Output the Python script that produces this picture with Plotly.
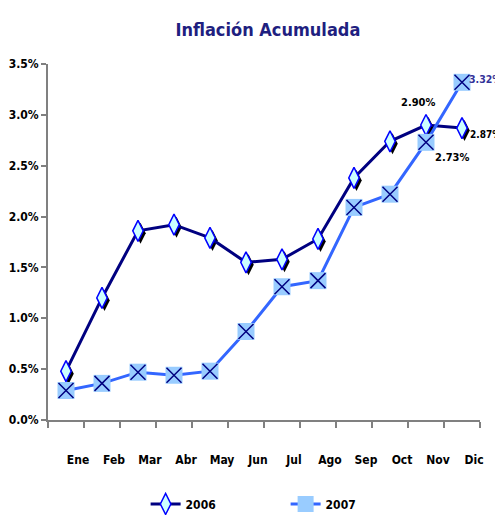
import plotly.graph_objects as go

# meses y valores acumulados (%)
meses = ['Ene', 'Feb', 'Mar', 'Abr', 'May', 'Jun', 'Jul', 'Ago', 'Sep', 'Oct', 'Nov', 'Dic']
infl_2006 = [0.48, 1.20, 1.86, 1.92, 1.79, 1.55, 1.58, 1.78, 2.38, 2.74, 2.90, 2.87]
infl_2007 = [0.29, 0.36, 0.47, 0.44, 0.48, 0.87, 1.31, 1.37, 2.09, 2.22, 2.73, 3.32]
y_ticks = [0.0, 0.5, 1.0, 1.5, 2.0, 2.5, 3.0, 3.5]

FONT = 'DejaVu Sans Condensed, Liberation Sans Narrow, sans-serif'
NAVY = '#000080'
BLUE = '#3366FF'

# the page body has an 8px margin, keep the figure inside the window (no scrollbars)
W, H = 495, 507
ml, mr, mt, mb = 40, 23, 56, 95
plot_w = W - ml - mr
plot_h = H - mt - mb
y_max = 3.5
n = len(meses)

# shadow offset (pixels) done with a shifted hidden axis
sh = 2.5
dx = sh * n / plot_w
dy = sh * y_max / plot_h

fig = go.Figure()

# sombra de los rombos
fig.add_trace(go.Scatter(
    x=list(range(n)), y=infl_2006, mode='markers', xaxis='x', yaxis='y',
    marker=dict(symbol='diamond-tall', size=15, color='black', line=dict(width=0)),
    showlegend=False, hoverinfo='skip'))

fig.add_trace(go.Scatter(
    x=meses, y=infl_2006, name='2006', mode='lines+markers', xaxis='x2', yaxis='y2',
    line=dict(color=NAVY, width=3),
    marker=dict(symbol='diamond-tall', size=15, color='#CCFFFF', line=dict(color='#0000FF', width=1.5))))

fig.add_trace(go.Scatter(
    x=meses, y=infl_2007, name='2007', mode='lines+markers', xaxis='x2', yaxis='y2',
    line=dict(color=BLUE, width=3),
    marker=dict(symbol='square', size=17, color='#99CCFF', line=dict(width=0))))

fig.add_trace(go.Scatter(
    x=meses, y=infl_2007, mode='markers', xaxis='x2', yaxis='y2',
    marker=dict(symbol='x-thin-open', size=15, color=NAVY, line=dict(color=NAVY, width=1.5)),
    showlegend=False, hoverinfo='skip'))

# etiquetas de datos: (mes, valor, dx, dy, anclaje, color, tamaño)
labels = [
    (10, infl_2006[10], -8, 23, 'center', 'black', 11),
    (11, infl_2006[11], 6, -6, 'left', 'black', 10),
    (10, infl_2007[10], 7, -15, 'left', 'black', 11),
    (11, infl_2007[11], 5, 3, 'left', '#333399', 10.5),
]
for xi, yv, xs, ys, anc, col, sz in labels:
    fig.add_annotation(x=meses[xi], y=yv, xref='x2', yref='y2', text=f'{yv:.2f}%',
                       showarrow=False, xshift=xs, yshift=ys, xanchor=anc,
                       font=dict(family=FONT, size=sz, color=col, weight='bold'))

fig.update_layout(
    width=W, height=H,
    margin=dict(l=ml, r=mr, t=mt, b=mb),
    paper_bgcolor='white', plot_bgcolor='white',
    font=dict(family=FONT, color='black', weight='bold'),
    title=dict(text='Inflación Acumulada', x=0.525, xanchor='center', y=1 - 22 / H, yanchor='middle',
               font=dict(family=FONT, size=18, color='#1F1F80', weight='bold')),
    xaxis=dict(visible=False, range=[-0.5 - dx, n - 0.5 - dx]),
    yaxis=dict(visible=False, range=[dy, y_max + dy]),
    xaxis2=dict(overlaying='x', type='category', range=[-0.5, n - 0.5], showline=True,
                linecolor='#808080', linewidth=2, ticks='outside', tickson='boundaries',
                ticklen=6, tickcolor='#808080', tickwidth=2, showgrid=False, automargin=False,
                ticklabelshift=12, ticklabelstandoff=28,
                tickfont=dict(family=FONT, size=12, color='black', weight='bold'), anchor='y2'),
    yaxis2=dict(overlaying='y', range=[0, y_max], tickvals=y_ticks,
                ticktext=[f'{v:.1f}%' for v in y_ticks], automargin=False,
                showline=True, linecolor='#808080', linewidth=2, ticks='outside', ticklen=5,
                tickcolor='#808080', tickwidth=2, showgrid=False, zeroline=False,
                tickfont=dict(family=FONT, size=12, color='black', weight='bold'), anchor='x2'),
    legend=dict(orientation='h', xref='container', x=0.278, xanchor='left',
                yref='container', y=11 / H, yanchor='middle',
                font=dict(family=FONT, size=12, color='black', weight='bold'), entrywidth=95),
    showlegend=True,
)

fig.write_html('out.html')
